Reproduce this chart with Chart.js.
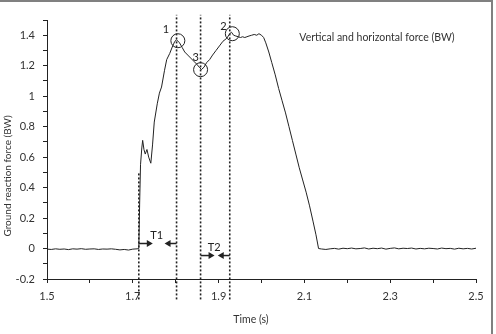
<!DOCTYPE html>
<html>
<head>
<meta charset="utf-8">
<script src="https://cdn.jsdelivr.net/npm/chart.js@4.4.1/dist/chart.umd.min.js"></script>
<style>
  html, body { margin: 0; padding: 0; background: #fff; }
  #wrap { position: relative; width: 496px; height: 334px; }
  #frame { position: absolute; left: 0; top: 0; width: 491px; height: 332px;
           border-top: 2px solid #808080; border-right: 2px solid #808080; pointer-events: none; }
</style>
</head>
<body>
<div id="wrap">
  <canvas id="force-chart" width="496" height="334"></canvas>
  <div id="frame"></div>
</div>
<script>
// force trace (time in s, force in BW)
const timeS = [
  1.50, 1.51, 1.52, 1.53, 1.54, 1.55, 1.56, 1.57, 1.58, 1.59, 1.60,
  1.61, 1.62, 1.63, 1.64, 1.65, 1.66, 1.67, 1.68, 1.69, 1.70, 1.71,
  1.714, 1.716, 1.718, 1.721, 1.723, 1.726, 1.729, 1.733, 1.737, 1.742,
  1.746, 1.750, 1.757, 1.762, 1.767, 1.774, 1.779, 1.786, 1.793, 1.798,
  1.802, 1.809, 1.815, 1.821, 1.828, 1.835, 1.842, 1.849, 1.855, 1.860,
  1.866, 1.872, 1.879, 1.886, 1.894, 1.902, 1.910, 1.919, 1.926, 1.930,
  1.935, 1.940, 1.946, 1.951, 1.956, 1.961, 1.966, 1.971, 1.977, 1.983,
  1.989, 1.994, 2.000, 2.005, 2.010, 2.017, 2.024, 2.032, 2.040, 2.048,
  2.056, 2.064, 2.072, 2.080, 2.088, 2.096, 2.104, 2.112, 2.120, 2.127,
  2.133,
  2.14, 2.15, 2.16, 2.17, 2.18, 2.19, 2.20, 2.21, 2.22, 2.23, 2.24,
  2.25, 2.26, 2.27, 2.28, 2.29, 2.30, 2.31, 2.32, 2.33, 2.34, 2.35,
  2.36, 2.37, 2.38, 2.39, 2.40, 2.41, 2.42, 2.43, 2.44, 2.45, 2.46,
  2.47, 2.48, 2.49, 2.50
];
const forceBW = [
  -0.004, -0.006, -0.002, -0.005, -0.003, -0.007, -0.002, -0.004, -0.001, -0.005, -0.003,
  -0.002, -0.006, -0.003, -0.004, -0.002, -0.005, -0.009, -0.006, -0.010, -0.004, -0.002,
  0.00, 0.30, 0.55, 0.66, 0.71, 0.65, 0.62, 0.65, 0.60, 0.56,
  0.68, 0.83, 0.95, 1.02, 1.06, 1.17, 1.24, 1.28, 1.33, 1.36,
  1.37, 1.35, 1.32, 1.29, 1.27, 1.25, 1.23, 1.21, 1.19, 1.175,
  1.19, 1.22, 1.24, 1.27, 1.30, 1.33, 1.36, 1.38, 1.41, 1.42,
  1.40, 1.395, 1.39, 1.385, 1.39, 1.385, 1.39, 1.395, 1.40, 1.405,
  1.40, 1.41, 1.40, 1.385, 1.35, 1.29, 1.22, 1.14, 1.05, 0.97,
  0.89, 0.80, 0.71, 0.62, 0.53, 0.45, 0.37, 0.28, 0.18, 0.09,
  0.00,
  -0.003, -0.006, -0.002, 0.001, -0.004, 0.002, -0.001, 0.003, -0.002, 0.000, 0.004,
  -0.003, 0.002, -0.001, 0.003, -0.004, 0.001, 0.004, -0.002, 0.002, 0.000, 0.003,
  -0.003, 0.001, -0.002, 0.002, 0.000, -0.003, 0.003, -0.001, 0.001, -0.004, 0.002,
  -0.002, 0.001, -0.003, 0.002
];

// dashed event lines: time, lower and upper end (BW)
const eventTimes = [1.714, 1.802, 1.858, 1.926];
const eventLow = [-0.334, -0.334, -0.334, -0.334];
const eventHigh = [0.505, 1.534, 1.534, 1.534];

// circled points
const circleTimes = [1.805, 1.858, 1.932];
const circleForces = [1.364, 1.174, 1.41];
const circleLabels = ["1", "3", "2"];

// interval arrows T1, T2
const intervalLabels = ["T1", "T2"];
const intervalStart = [1.714, 1.858];
const intervalEnd = [1.802, 1.926];
const intervalLevel = [0.033, -0.046];

// axis ticks
const xTicks = [1.5, 1.6, 1.7, 1.8, 1.9, 2.0, 2.1, 2.2, 2.3, 2.4, 2.5];
const xTickLabels = ["1.5", "", "1.7", "", "1.9", "", "2.1", "", "2.3", "", "2.5"];
const yTicks = [-0.2, -0.1, 0, 0.1, 0.2, 0.3, 0.4, 0.5, 0.6, 0.7, 0.8, 0.9, 1.0, 1.1, 1.2, 1.3, 1.4, 1.5];
const yTickLabels = ["-0.2", "", "0", "", "0.2", "", "0.4", "", "0.6", "", "0.8", "", "1", "", "1.2", "", "1.4", ""];

const FONT = "Lato, 'Open Sans', sans-serif";
const INK = "#222";

const traceData = timeS.map((t, i) => ({ x: t, y: forceBW[i] }));

const eventSets = eventTimes.map((t, i) => ({
  data: [{ x: t, y: eventLow[i] }, { x: t, y: eventHigh[i] }],
  borderColor: INK,
  borderWidth: 1.6,
  borderDash: [2, 2],
  pointRadius: 0,
  showLine: true,
  clip: false,
}));

// arrows, point numbers and titles
const annotations = {
  id: "annotations",
  afterDatasetsDraw(chart) {
    const ctx = chart.ctx;
    const xs = chart.scales.x;
    const ys = chart.scales.y;
    ctx.save();
    ctx.fillStyle = INK;
    ctx.strokeStyle = INK;
    ctx.lineWidth = 1.5;

    const arrow = (x0, x1, y) => {
      const dir = Math.sign(x1 - x0);
      ctx.beginPath();
      ctx.moveTo(x0, y);
      ctx.lineTo(x1 - dir * 4, y);
      ctx.stroke();
      ctx.beginPath();
      ctx.moveTo(x1, y);
      ctx.lineTo(x1 - dir * 6, y - 3.5);
      ctx.lineTo(x1 - dir * 6, y + 3.5);
      ctx.closePath();
      ctx.fill();
    };

    ctx.font = "11px " + FONT;
    ctx.textAlign = "center";
    ctx.textBaseline = "middle";
    intervalLabels.forEach((lab, i) => {
      const a = xs.getPixelForValue(intervalStart[i]);
      const b = xs.getPixelForValue(intervalEnd[i]);
      const y = ys.getPixelForValue(intervalLevel[i]);
      arrow(a, a + 14, y);
      arrow(b, b - 12, y);
      ctx.fillText(lab, (a + b) / 2 - 1, y - 8);
    });

    const offs = [[-12, -11], [-5, -12], [-9, -7]];
    circleLabels.forEach((lab, i) => {
      const x = xs.getPixelForValue(circleTimes[i]);
      const y = ys.getPixelForValue(circleForces[i]);
      ctx.fillText(lab, x + offs[i][0], y + offs[i][1]);
    });

    ctx.fillStyle = "#333";
    ctx.font = "10.5px " + FONT;
    ctx.fillText("Vertical and horizontal force (BW)", 377, 38);
    ctx.fillText("Time (s)", 251, 320);
    ctx.font = "10px " + FONT;
    ctx.translate(8, 176);
    ctx.rotate(-Math.PI / 2);
    ctx.fillText("Ground reaction force (BW)", 0, 0);
    ctx.restore();
  },
};

const tickFont = { family: FONT, size: 11 };

new Chart(document.getElementById("force-chart").getContext("2d"), {
  type: "scatter",
  data: {
    datasets: [
      {
        data: traceData,
        borderColor: INK,
        borderWidth: 1,
        pointRadius: 0,
        showLine: true,
        tension: 0,
      },
      ...eventSets,
      {
        data: circleTimes.map((t, i) => ({ x: t, y: circleForces[i] })),
        pointStyle: "circle",
        pointRadius: 7,
        pointBorderColor: INK,
        pointBorderWidth: 1,
        pointBackgroundColor: "rgba(0,0,0,0)",
        showLine: false,
      },
    ],
  },
  options: {
    responsive: false,
    animation: false,
    layout: { padding: { left: 0, top: 20, right: 20, bottom: 0 } },
    plugins: { legend: { display: false }, tooltip: { enabled: false } },
    scales: {
      x: {
        type: "linear",
        min: 1.5,
        max: 2.5,
        afterBuildTicks: (s) => { s.ticks = xTicks.map((v) => ({ value: v })); },
        afterFit: (s) => { s.height = 55; },
        ticks: {
          autoSkip: false,
          maxRotation: 0,
          padding: 7,
          color: "#333",
          font: tickFont,
          callback: (v, i) => xTickLabels[i],
        },
        grid: { drawOnChartArea: false, drawTicks: true, tickLength: 4, tickColor: INK },
        border: { color: INK, width: 1 },
      },
      y: {
        min: -0.2,
        max: 1.5,
        afterBuildTicks: (s) => { s.ticks = yTicks.map((v) => ({ value: v })); },
        afterFit: (s) => { s.width = 47; },
        ticks: {
          autoSkip: false,
          padding: 8,
          color: "#333",
          font: tickFont,
          callback: (v, i) => yTickLabels[i],
        },
        grid: { drawOnChartArea: false, drawTicks: true, tickLength: 4, tickColor: INK },
        border: { color: INK, width: 1 },
      },
    },
  },
  plugins: [annotations],
});
</script>
</body>
</html>
